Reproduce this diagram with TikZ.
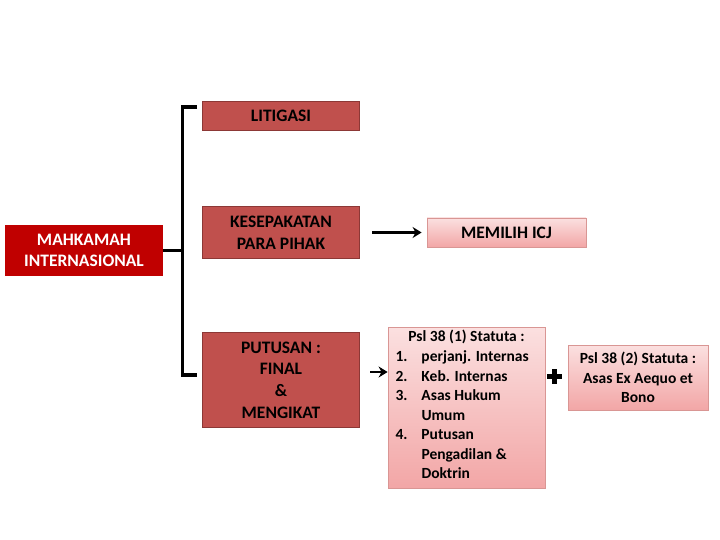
\documentclass[tikz,border=0pt]{standalone}
\usepackage{fontspec}
\setmainfont{Carlito}
\usepackage{array}
\usetikzlibrary{arrows.meta,positioning,calc}
\definecolor{darkred}{HTML}{C00000}
\definecolor{brick}{HTML}{C0504D}
\definecolor{brickline}{HTML}{8C3836}
\definecolor{pinktop}{HTML}{FBE0E0}
\definecolor{pinkbot}{HTML}{F2A6A6}
\definecolor{pinkline}{HTML}{D99694}

\begin{document}
\begin{tikzpicture}[x=1pt,y=-1pt,every node/.style={font=\fontsize{17.5}{21.7}\selectfont\bfseries},
 b/.style={draw=brickline,line width=1.6pt,fill=brick,align=center,inner sep=0pt},
 pk/.style={draw=pinkline,line width=0.8pt,top color=pinktop,bottom color=pinkbot,align=center,inner sep=0pt},
 sm/.style={font=\fontsize{15.5}{19.5}\selectfont\bfseries},
 br/.style={line width=3.5pt},
 arr/.style={-{Stealth[length=9pt,width=11pt]},line width=2.6pt}]
\useasboundingbox (0,0) rectangle (720,540);
\node[fill=darkred,text=white,minimum width=158pt,minimum height=51pt,align=center,inner sep=0pt] (m) at (84,250.5) {MAHKAMAH\\INTERNASIONAL};
\node[b,minimum width=157pt,minimum height=29pt] (l) at (281,116) {LITIGASI};
\node[b,minimum width=157pt,minimum height=52pt] (k) at (281,232.5) {KESEPAKATAN\\PARA PIHAK};
\node[b,minimum width=157pt,minimum height=95pt] (p) at (281,380) {PUTUSAN :\\FINAL\\\&\\MENGIKAT};
\node[pk,minimum width=159pt,minimum height=29pt] (icj) at (506.5,232.5) {MEMILIH ICJ};
\node[pk,sm,minimum width=157pt,minimum height=161pt] (s1) at (466.5,407.5) {%
  Psl 38 (1) Statuta :\\[3pt]
  \begin{tabular}{@{}>{\raggedright}p{26pt}@{}>{\raggedright\arraybackslash}p{116pt}@{}}
  1. & perjanj. Internas\\
  2. & Keb. Internas\\
  3. & Asas Hukum Umum\\
  4. & Putusan Pengadilan \& Doktrin
  \end{tabular}};
\node[pk,sm,minimum width=140pt,minimum height=65pt] (s2) at (638,377.5) {Psl 38 (2) Statuta :\\Asas Ex Aequo et\\Bono};
% bracket
\coordinate (bt) at (197,107);
\coordinate (bb) at (197,375);
\draw[br] (bt) -- ++(-14.5,0) coordinate (brk) |- (bb);
\draw[br] (m.east) -- (m.east -| brk);
% arrows
\draw[arr] ([xshift=12pt]k.east) -- ([xshift=-5pt]icj.west);
\draw[arr] ([xshift=10pt]p.east |- s1.west) ++(0,-35.5) -- ([yshift=35.5pt]s1.west);
% plus
\fill (546.5,373.5) rectangle (561.5,378.5);
\fill (551.5,368.5) rectangle (556.5,383.5);
\end{tikzpicture}
\end{document}
